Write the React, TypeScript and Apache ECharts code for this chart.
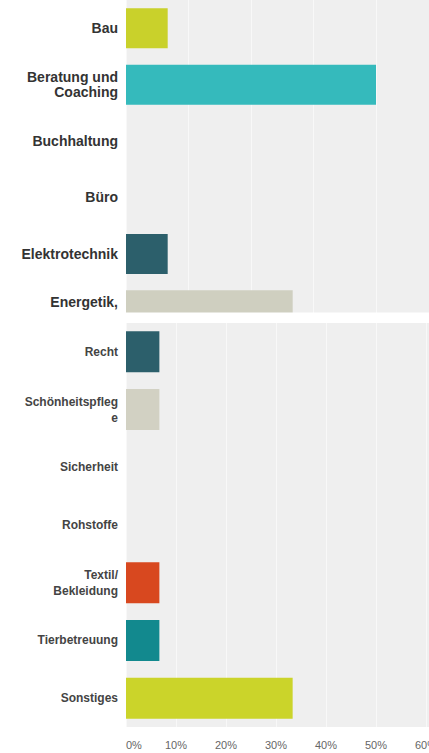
import React, { useEffect, useRef } from "react";
import * as echarts from "echarts";

const topCategories = ["Bau", "Beratung und\nCoaching", "Buchhaltung", "Büro", "Elektrotechnik", "Energetik,"];
const topValues = [6.67, 40, 0, 0, 6.67, 26.67];
const topColors = ["#c9d12b", "#35babc", "#c9d12b", "#c9d12b", "#2c5f6b", "#cfcfc0"];

const bottomCategories = ["Recht", "Schönheitspfleg\ne", "Sicherheit", "Rohstoffe", "Textil/\nBekleidung", "Tierbetreuung", "Sonstiges"];
const bottomValues = [6.67, 6.67, 0, 0, 6.67, 6.67, 33.33];
const bottomColors = ["#2c5f6b", "#d2d1c3", "#c9d12b", "#c9d12b", "#d8481f", "#12898e", "#cbd42a"];

const axisMin = 0;
const topAxisMax = 50;
const bottomAxisMax = 60;
const tickStep = 10;

export default function App() {
  const ref = useRef<HTMLDivElement>(null);
  useEffect(() => {
    if (!ref.current) return;
    const chart = echarts.init(ref.current, null, { renderer: "svg" });
    const panelBg = "#efefef";
    const gridLine = "#f8f8f8";
    const font = "Liberation Sans, Arial, sans-serif";
    chart.setOption({
      animation: false,
      backgroundColor: "#ffffff",
      graphic: [
        { type: "rect", shape: { x: 0, y: 312.5, width: 440, height: 441 }, style: { fill: "#ffffff" }, z: 10, silent: true },
        { type: "rect", shape: { x: 126, y: 323, width: 306, height: 404 }, style: { fill: panelBg }, z: 11, silent: true },
      ],
      grid: [
        { left: 126, top: -3.5, width: 312.5, height: 342, show: true, backgroundColor: panelBg, borderWidth: 0, containLabel: false },
        { left: 126, top: 323, width: 306, height: 404, show: false, containLabel: false },
      ],
      xAxis: [
        {
          type: "value", gridIndex: 0, min: axisMin, max: topAxisMax, interval: tickStep,
          axisLabel: { show: false }, axisLine: { show: false }, axisTick: { show: false },
          splitLine: { show: true, lineStyle: { color: gridLine, width: 1 } },
        },
        {
          type: "value", gridIndex: 1, min: axisMin, max: bottomAxisMax, interval: tickStep, z: 20,
          axisLabel: {
            show: true, formatter: "{value}%", color: "#666", fontSize: 11,
            fontFamily: font, margin: 12, alignMinLabel: "left",
          },
          axisLine: { show: false }, axisTick: { show: false },
          splitLine: { show: true, lineStyle: { color: gridLine, width: 1 } },
        },
      ],
      yAxis: [
        {
          type: "category", gridIndex: 0, data: topCategories, inverse: true,
          axisLine: { show: false }, axisTick: { show: false },
          axisLabel: {
            color: "#333", fontSize: 14, fontWeight: "bold", margin: 8, lineHeight: 15,
            fontFamily: font,
            formatter: (v: string) => (v === "Energetik," ? "{e|" + v + "}" : v),
            rich: { e: { fontSize: 14, fontWeight: "bold", color: "#333", padding: [0, 0, 16, 0], fontFamily: font } },
          },
        },
        {
          type: "category", gridIndex: 1, data: bottomCategories, inverse: true, z: 20,
          axisLine: { show: false }, axisTick: { show: false },
          axisLabel: {
            color: "#444", fontSize: 12, fontWeight: "bold", margin: 8, lineHeight: 16,
            fontFamily: font,
          },
        },
      ],
      series: [
        {
          type: "bar", xAxisIndex: 0, yAxisIndex: 0, barWidth: 40, z: 2,
          data: topValues.map((v, i) => ({ value: v, itemStyle: { color: topColors[i] } })),
        },
        {
          type: "bar", xAxisIndex: 1, yAxisIndex: 1, barWidth: 41, z: 20,
          data: bottomValues.map((v, i) => ({ value: v, itemStyle: { color: bottomColors[i] } })),
        },
      ],
    });
    return () => chart.dispose();
  }, []);
  return <div ref={ref} style={{ position: "fixed", left: 0, top: 0, width: 440, height: 753 }} />;
}
